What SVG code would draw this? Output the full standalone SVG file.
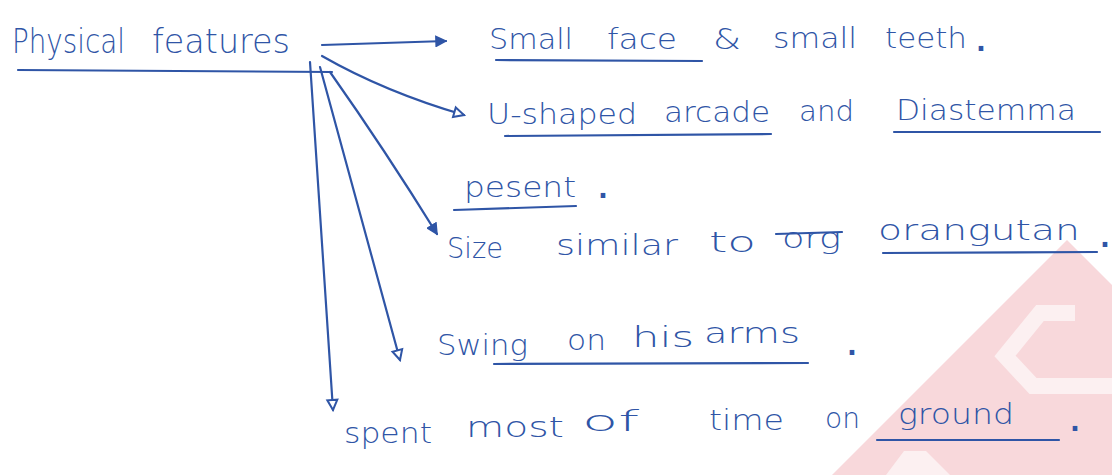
<svg xmlns="http://www.w3.org/2000/svg" width="1112" height="475" viewBox="0 0 1112 475">
<style>
text{font-family:"DejaVu Sans","Liberation Sans",sans-serif;font-weight:200;fill:#2f55a6;font-size:29px}
.t{font-size:34px}
.p{font-weight:700;font-size:26px}
.u{stroke:#2f55a6;stroke-width:2.2;fill:none;stroke-linecap:round}
.c{stroke:#2f55a6;stroke-width:2.2;fill:none;stroke-linecap:round}
</style>
<defs>
<marker id="af" viewBox="0 0 12 12" refX="11" refY="6" markerWidth="12" markerHeight="12" markerUnits="userSpaceOnUse" orient="auto"><path d="M1,1 L11,6 L1,11 z" fill="#2f55a6" stroke="#2f55a6" stroke-width="1.5"/></marker>
<marker id="ah" viewBox="0 0 14 14" refX="12" refY="7" markerWidth="14" markerHeight="14" markerUnits="userSpaceOnUse" orient="auto"><path d="M2,2 L12,7 L2,12 z" fill="#fff" stroke="#2f55a6" stroke-width="2"/></marker>
</defs>
<rect width="1112" height="475" fill="#fff"/>
<g id="watermark">
<polygon points="1067,240 1112,285 1112,475 832,475" fill="#f8d8db"/>
<polyline points="1075,313 1040,313 1005,356 1033,386 1112,386" fill="none" stroke="#fcf0f1" stroke-width="16"/>
<polygon points="886,475 904,451 926,451 950,475" fill="#fcf0f1"/>
</g>
<g id="connectors">
<path class="c" d="M322,45 L446,41" marker-end="url(#af)"/>
<path class="c" d="M322,56 Q385,92 464,115" marker-end="url(#ah)"/>
<path class="c" d="M330,72 Q385,150 437,234" marker-end="url(#af)"/>
<path class="c" d="M320,67 L400,360" marker-end="url(#ah)"/>
<path class="c" d="M310,62 L333,410" marker-end="url(#ah)"/>
</g>
<g id="physical-features">
<text class="t" x="12" y="53" textLength="113" lengthAdjust="spacingAndGlyphs">Physical</text>
<text class="t" x="152" y="53" textLength="138" lengthAdjust="spacingAndGlyphs">features</text>
<path class="u" d="M18,70 L332,72"/>
</g>
<g id="small-face">
<text x="489" y="49" textLength="84" lengthAdjust="spacingAndGlyphs">Small</text>
<text x="607" y="49" textLength="70" lengthAdjust="spacingAndGlyphs">face</text>
<text x="713" y="49" textLength="28" lengthAdjust="spacingAndGlyphs">&amp;</text>
<text x="773" y="48" textLength="84" lengthAdjust="spacingAndGlyphs">small</text>
<text x="885" y="48" textLength="82" lengthAdjust="spacingAndGlyphs">teeth</text>
<text class="p" x="976" y="51">.</text>
<path class="u" d="M496,60 L702,61"/>
</g>
<g id="u-shaped">
<text x="487" y="124" textLength="150" lengthAdjust="spacingAndGlyphs">U-shaped</text>
<text x="664" y="122" textLength="106" lengthAdjust="spacingAndGlyphs">arcade</text>
<text x="799" y="121" textLength="55" lengthAdjust="spacingAndGlyphs">and</text>
<text x="896" y="120" textLength="180" lengthAdjust="spacingAndGlyphs">Diastemma</text>
<path class="u" d="M505,136 L771,134"/>
<path class="u" d="M894,132 L1100,132"/>
<text x="464" y="197" textLength="112" lengthAdjust="spacingAndGlyphs">pesent</text>
<text class="p" x="598" y="198">.</text>
<path class="u" d="M454,210 L576,206"/>
</g>
<g id="size">
<text x="447" y="258" font-size="31" textLength="56" lengthAdjust="spacingAndGlyphs">Size</text>
<text x="556" y="255" textLength="122" lengthAdjust="spacingAndGlyphs">similar</text>
<text x="709" y="252" textLength="47" lengthAdjust="spacingAndGlyphs">to</text>
<text x="782" y="248" textLength="59" lengthAdjust="spacingAndGlyphs">org</text>
<path class="u" d="M776,234 L842,232"/>
<text x="878" y="240" textLength="202" lengthAdjust="spacingAndGlyphs">orangutan</text>
<path class="u" d="M883,253 L1097,252"/>
<text class="p" x="1100" y="247">.</text>
</g>
<g id="swing">
<text x="437" y="355" textLength="91" lengthAdjust="spacingAndGlyphs">Swing</text>
<text x="567" y="350" textLength="39" lengthAdjust="spacingAndGlyphs">on</text>
<text x="632" y="347" textLength="62" lengthAdjust="spacingAndGlyphs">his</text>
<text x="704" y="343" textLength="96" lengthAdjust="spacingAndGlyphs">arms</text>
<path class="u" d="M494,364 L808,363"/>
<text class="p" x="847" y="355">.</text>
</g>
<g id="spent">
<text x="344" y="443" textLength="88" lengthAdjust="spacingAndGlyphs">spent</text>
<text x="466" y="437" textLength="98" lengthAdjust="spacingAndGlyphs">most</text>
<text x="582" y="431" textLength="57" lengthAdjust="spacingAndGlyphs">of</text>
<text x="709" y="430" textLength="75" lengthAdjust="spacingAndGlyphs">time</text>
<text x="825" y="428" textLength="35" lengthAdjust="spacingAndGlyphs">on</text>
<text x="898" y="424" textLength="116" lengthAdjust="spacingAndGlyphs">ground</text>
<path class="u" d="M877,440 L1059,440"/>
<text class="p" x="1070" y="431">.</text>
</g>
</svg>
